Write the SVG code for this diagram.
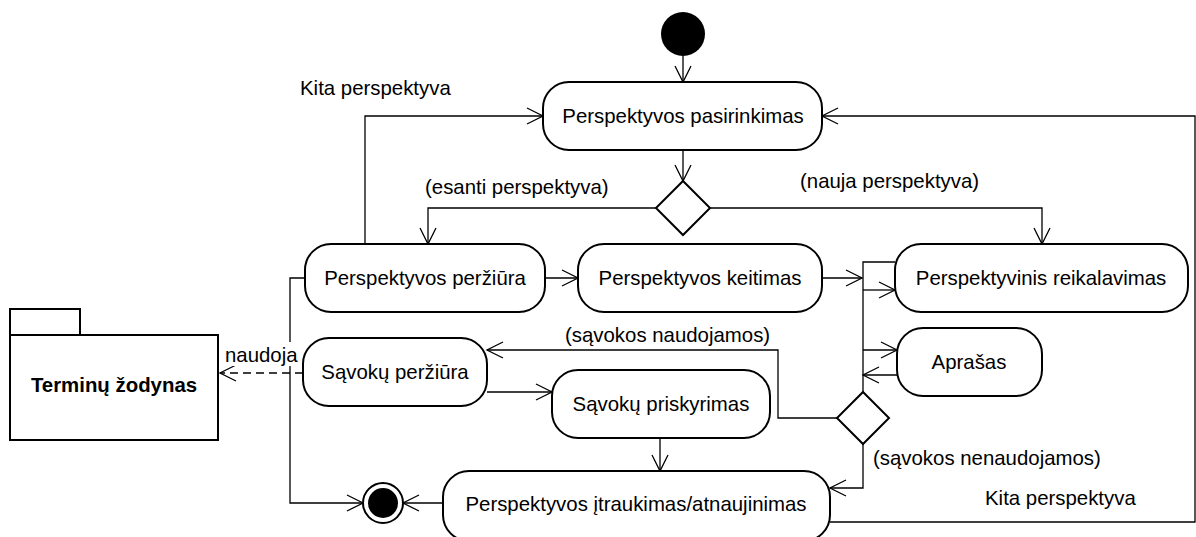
<svg xmlns="http://www.w3.org/2000/svg" width="1196" height="537" viewBox="0 0 1196 537">
  <style>
    .act { fill: #fff; stroke: #000; stroke-width: 2; }
    .lbl { font-family: "Liberation Sans", Arial, sans-serif; font-size: 20.4px; fill: #000; }
    .mid { text-anchor: middle; }
    .con { fill: none; stroke: #000; stroke-width: 1.3; }
    .arr { marker-end: url(#open); }
  </style>
  <defs>
    <marker id="open" viewBox="-18 -10 20 20" refX="0" refY="0" markerWidth="20" markerHeight="20" markerUnits="userSpaceOnUse" orient="auto">
      <path d="M-16,-8 L0,0 L-16,8" fill="none" stroke="#000" stroke-width="1.3"/>
    </marker>
  </defs>
  <rect width="1196" height="537" fill="#fff"/>

  <!-- connectors -->
  <g id="connectors">
    <path class="con arr" d="M683,56 V82"/>
    <path class="con arr" d="M683,150 V181"/>
    <path class="con arr" d="M656,208 H428 V244"/>
    <path class="con arr" d="M710,208 H1042 V244"/>
    <path class="con arr" d="M365,244 V116 H543"/>
    <path class="con arr" d="M830,522 H1195 V116 H822"/>
    <path class="con arr" d="M545,278 H578"/>
    <path class="con arr" d="M822,278 H862"/>
    <path class="con" d="M895,262 H863 V392"/>
    <path class="con arr" d="M863,290 H895"/>
    <path class="con arr" d="M863,350 H897"/>
    <path class="con arr" d="M897,375 H863"/>
    <path class="con arr" d="M837,418 H778 V350 H487"/>
    <path class="con arr" d="M487,392 H552"/>
    <path class="con arr" d="M660,438 V471"/>
    <path class="con arr" d="M863,444 V488 H830"/>
    <path class="con arr" d="M443,503 H403"/>
    <path class="con arr" d="M305,278 H290 V503 H363"/>
    <path class="con arr" d="M303,373 H220" stroke-dasharray="8,5"/>
    <rect x="224" y="342" width="74" height="24" fill="#fff"/>
    <text class="lbl" x="225" y="362">naudoja</text>
    <text class="lbl" x="300" y="95">Kita perspektyva</text>
    <text class="lbl" x="985" y="505">Kita perspektyva</text>
    <text class="lbl" x="425" y="194">(esanti perspektyva)</text>
    <text class="lbl" x="800" y="188">(nauja perspektyva)</text>
    <text class="lbl" x="565" y="342">(sąvokos naudojamos)</text>
    <text class="lbl" x="873" y="465">(sąvokos nenaudojamos)</text>
  </g>

  <g id="start">
    <circle cx="683" cy="34" r="22" fill="#000"/>
  </g>

  <g id="pasirinkimas">
    <rect class="act" x="543" y="82" width="279" height="68" rx="26"/>
    <text class="lbl mid" x="683" y="123">Perspektyvos pasirinkimas</text>
  </g>

  <g id="decision1">
    <polygon class="act" points="683,181 710,208 683,235 656,208"/>
  </g>

  <g id="perziura">
    <rect class="act" x="305" y="244" width="240" height="68" rx="26"/>
    <text class="lbl mid" x="425" y="285">Perspektyvos peržiūra</text>
  </g>

  <g id="keitimas">
    <rect class="act" x="578" y="244" width="244" height="68" rx="26"/>
    <text class="lbl mid" x="700" y="285">Perspektyvos keitimas</text>
  </g>

  <g id="reikalavimas">
    <rect class="act" x="895" y="244" width="293" height="68" rx="26"/>
    <text class="lbl mid" x="1041" y="285">Perspektyvinis reikalavimas</text>
  </g>

  <g id="aprasas">
    <rect class="act" x="897" y="328" width="145" height="68" rx="26"/>
    <text class="lbl mid" x="969" y="369">Aprašas</text>
  </g>

  <g id="savoku-perziura">
    <rect class="act" x="303" y="338" width="184" height="68" rx="26"/>
    <text class="lbl mid" x="395" y="379">Sąvokų peržiūra</text>
  </g>

  <g id="priskyrimas">
    <rect class="act" x="552" y="370" width="218" height="68" rx="26"/>
    <text class="lbl mid" x="661" y="411">Sąvokų priskyrimas</text>
  </g>

  <g id="decision2">
    <polygon class="act" points="863,392 889,418 863,444 837,418"/>
  </g>

  <g id="itraukimas">
    <rect class="act" x="443" y="471" width="387" height="70" rx="26"/>
    <text class="lbl mid" x="636" y="511">Perspektyvos įtraukimas/atnaujinimas</text>
  </g>

  <g id="final">
    <circle cx="383" cy="503" r="20" fill="#fff" stroke="#000" stroke-width="2"/>
    <circle cx="383" cy="503" r="15" fill="#000"/>
  </g>

  <g id="terminu-zodynas">
    <rect class="act" x="10" y="309" width="70" height="26"/>
    <rect class="act" x="10" y="335" width="208" height="105"/>
    <text class="lbl mid" x="114" y="392" font-weight="bold">Terminų žodynas</text>
  </g>
</svg>
